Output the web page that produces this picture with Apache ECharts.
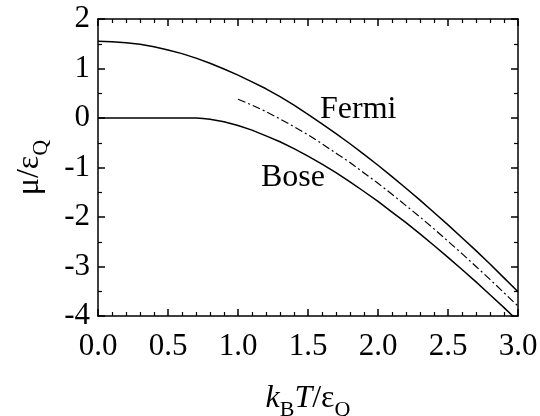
<!DOCTYPE html>
<html>
<head>
<meta charset="utf-8">
<script src="https://cdn.jsdelivr.net/npm/echarts@6/dist/echarts.min.js"></script>
<style>
  html, body { margin: 0; padding: 0; background: #fff; }
  #chart { width: 540px; height: 416px; }
</style>
</head>
<body>
<div id="chart"></div>
<script>
// chemical potential vs temperature
const fermiT = [0, 0.1, 0.2, 0.3, 0.4, 0.5, 0.6, 0.7, 0.8, 0.9, 1.0, 1.1, 1.2, 1.3, 1.4, 1.5,
  1.6, 1.7, 1.8, 1.9, 2.0, 2.1, 2.2, 2.3, 2.4, 2.5, 2.6, 2.7, 2.8, 2.9, 3.0];
const fermiMu = [1.55, 1.54, 1.52, 1.49, 1.44, 1.375, 1.30, 1.21, 1.105, 0.99, 0.865, 0.73, 0.59, 0.43, 0.26, 0.075,
  -0.12, -0.315, -0.52, -0.735, -0.955, -1.185, -1.42, -1.66, -1.91, -2.16, -2.42, -2.68, -2.95, -3.23, -3.51];

const boseT = [0, 0.68, 0.7, 0.75, 0.8, 0.9, 1.0, 1.1, 1.2, 1.3, 1.4, 1.5,
  1.6, 1.7, 1.8, 1.9, 2.0, 2.1, 2.2, 2.3, 2.4, 2.5, 2.6, 2.7, 2.8, 2.9, 3.0];
const boseMu = [0, 0, -0.002, -0.009, -0.024, -0.075, -0.15, -0.245, -0.36, -0.48, -0.62, -0.77,
  -0.93, -1.105, -1.29, -1.485, -1.685, -1.9, -2.115, -2.34, -2.575, -2.815, -3.06, -3.31, -3.57, -3.83, -4.1];

const classicalT = [1.0, 1.1, 1.2, 1.3, 1.4, 1.5, 1.6, 1.7, 1.8, 1.9, 2.0,
  2.1, 2.2, 2.3, 2.4, 2.5, 2.6, 2.7, 2.8, 2.9, 3.0];
const classicalMu = [0.38, 0.26, 0.13, -0.02, -0.175, -0.34, -0.52, -0.71, -0.9, -1.11, -1.32,
  -1.54, -1.77, -2.0, -2.24, -2.49, -2.74, -3.0, -3.26, -3.53, -3.8];

const curveLabels = ['Fermi', 'Bose'];

const serif = '"Liberation Serif", "Times New Roman", serif';

function pairs(xs, ys) {
  return xs.map((x, i) => [x, ys[i]]);
}

const chart = echarts.init(document.getElementById('chart'));

const lineCol = { color: '#000', width: 1.5 };
const tick = { inside: true, length: 7, lineStyle: { color: '#000', width: 1.5 } };

const richName = {
  i: { fontFamily: serif, fontStyle: 'italic', fontSize: 32, color: '#000', lineHeight: 44 },
  r: { fontFamily: serif, fontSize: 32, color: '#000', lineHeight: 44 },
  s: { fontFamily: serif, fontSize: 22, color: '#000', lineHeight: 18, verticalAlign: 'bottom' }
};

const option = {
  animation: false,
  backgroundColor: '#fff',
  grid: { left: 98, right: 22, top: 19, bottom: 100, outerBoundsMode: 'none' },
  xAxis: [
    {
      type: 'value', min: 0, max: 3, interval: 0.5,
      position: 'bottom',
      axisLine: { onZero: false, lineStyle: lineCol },
      axisTick: tick,
      minorTick: { show: true, splitNumber: 5, length: 4, lineStyle: { color: '#000', width: 1.2 } },
      splitLine: { show: false },
      axisLabel: {
        color: '#000', fontFamily: serif, fontSize: 31, margin: 15,
        formatter: v => v.toFixed(1)
      },
      name: '{i|k}{s|B}{i|T}{r|/ε}{s|Q}',
      nameLocation: 'middle',
      nameGap: 61,
      nameTextStyle: { rich: richName }
    },
    {
      type: 'value', min: 0, max: 3, interval: 0.5,
      position: 'top',
      axisLine: { onZero: false, lineStyle: lineCol },
      axisTick: tick,
      minorTick: { show: true, splitNumber: 5, length: 4, lineStyle: { color: '#000', width: 1.2 } },
      splitLine: { show: false },
      axisLabel: { show: false }
    }
  ],
  yAxis: [
    {
      type: 'value', min: -4, max: 2, interval: 1,
      position: 'left',
      axisLine: { onZero: false, lineStyle: lineCol },
      axisTick: tick,
      minorTick: { show: true, splitNumber: 2, length: 4, lineStyle: { color: '#000', width: 1.2 } },
      splitLine: { show: false },
      axisLabel: { color: '#000', fontFamily: serif, fontSize: 31, margin: 8 },
      name: '{r|μ/ε}{s|Q}',
      nameLocation: 'middle',
      nameGap: 46,
      nameTextStyle: { rich: richName }
    },
    {
      type: 'value', min: -4, max: 2, interval: 1,
      position: 'right',
      axisLine: { onZero: false, lineStyle: lineCol },
      axisTick: tick,
      minorTick: { show: true, splitNumber: 2, length: 4, lineStyle: { color: '#000', width: 1.2 } },
      splitLine: { show: false },
      axisLabel: { show: false }
    }
  ],
  graphic: [
    { type: 'text', left: 320, top: 94, style: { text: curveLabels[0], font: '32px ' + serif, fill: '#000' } },
    { type: 'text', left: 261, top: 162, style: { text: curveLabels[1], font: '32px ' + serif, fill: '#000' } }
  ],
  series: [
    {
      name: 'Fermi', type: 'line', data: pairs(fermiT, fermiMu),
      showSymbol: false, clip: true,
      lineStyle: { color: '#000', width: 1.5 }
    },
    {
      name: 'Bose', type: 'line', data: pairs(boseT, boseMu),
      showSymbol: false, clip: true,
      lineStyle: { color: '#000', width: 1.5 }
    },
    {
      name: 'classical', type: 'line', data: pairs(classicalT, classicalMu),
      showSymbol: false, clip: true,
      lineStyle: { color: '#000', width: 1.2, type: [8, 3, 2, 3] }
    }
  ]
};

chart.setOption(option);
</script>
</body>
</html>
